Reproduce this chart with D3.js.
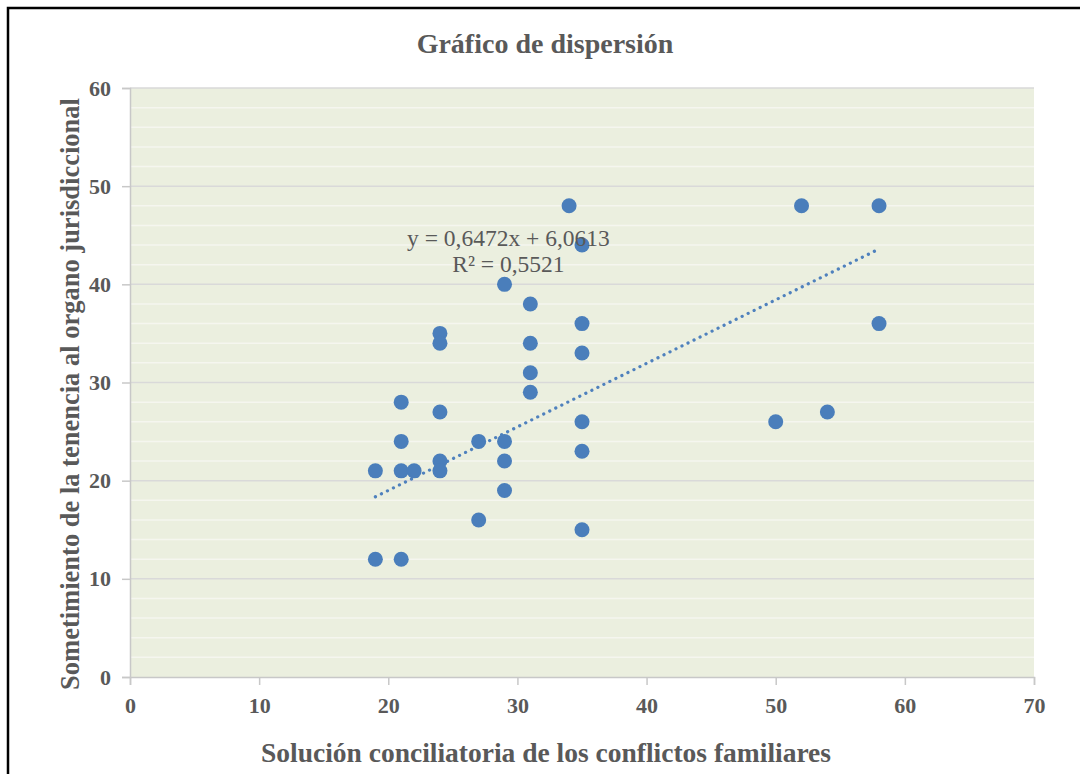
<!DOCTYPE html>
<html>
<head>
<meta charset="utf-8">
<script src="https://cdn.jsdelivr.net/npm/d3@7"></script>
<style>
  body { margin: 0; background: #fff; }
  svg text { font-family: "Liberation Serif", "Times New Roman", serif; fill: #595959; }
</style>
</head>
<body>
<div id="my_dataviz"></div>
<script>
// data
var xValues = [19, 19, 21, 21, 21, 21, 22, 24, 24, 24, 24, 24, 27, 27, 29, 29, 29, 29,
               31, 31, 31, 31, 34, 35, 35, 35, 35, 35, 35, 50, 52, 54, 58, 58];
var yValues = [21, 12, 28, 24, 21, 12, 21, 35, 34, 27, 22, 21, 24, 16, 40, 24, 22, 19,
               38, 34, 31, 29, 48, 44, 36, 33, 26, 23, 15, 26, 48, 27, 48, 36];
var xTicks = [0, 10, 20, 30, 40, 50, 60, 70];
var yTicks = [0, 10, 20, 30, 40, 50, 60];
var trendSlope = 0.6472, trendIntercept = 6.0613;
var trendRange = [19, 58];

var data = xValues.map(function(v, i) { return {x: v, y: yValues[i]}; });

var W = 1080, H = 774;
var margin = {top: 88, right: 46, bottom: 97, left: 130},
    width = W - margin.left - margin.right,
    height = H - margin.top - margin.bottom;

var root = d3.select("#my_dataviz")
    .append("svg")
    .attr("width", W)
    .attr("height", H);

// outer frame (cut off at right and bottom)
root.append("path")
    .attr("d", "M8," + H + "V8H" + W)
    .attr("fill", "none")
    .attr("stroke", "#000")
    .attr("stroke-width", 2.5);

var svg = root.append("g")
    .attr("transform", "translate(" + margin.left + "," + margin.top + ")");

var x = d3.scaleLinear().domain([0, 70]).range([0, width]);
var y = d3.scaleLinear().domain([0, 60]).range([height, 0]);

// plot background
svg.append("rect")
    .attr("width", width)
    .attr("height", height)
    .attr("fill", "#ebefdf");

// minor gridlines
svg.append("g")
    .selectAll("line")
    .data(d3.range(2, 60, 2).filter(function(d) { return d % 10 != 0; }))
    .enter()
    .append("line")
    .attr("x1", 0).attr("x2", width)
    .attr("y1", function(d) { return y(d); })
    .attr("y2", function(d) { return y(d); })
    .attr("stroke", "#f5f6ef")
    .attr("stroke-width", 1.5);

// major gridlines
svg.append("g")
    .selectAll("line")
    .data(yTicks.slice(1))
    .enter()
    .append("line")
    .attr("x1", 0).attr("x2", width)
    .attr("y1", function(d) { return y(d); })
    .attr("y2", function(d) { return y(d); })
    .attr("stroke", "#d9d9d9")
    .attr("stroke-width", 1.5);

// Y axis
var yAxis = svg.append("g")
    .call(d3.axisLeft(y).tickValues(yTicks).tickSize(8).tickPadding(11));
yAxis.select(".domain").attr("stroke", "#c8c8c8").attr("stroke-width", 1.5);
yAxis.selectAll(".tick line").attr("stroke", "#c8c8c8").attr("stroke-width", 1.5);
yAxis.selectAll("text")
    .style("font-size", "22px")
    .attr("font-weight", "bold")
    .attr("fill", "#595959");

// X axis
var xAxis = svg.append("g")
    .attr("transform", "translate(0," + height + ")")
    .call(d3.axisBottom(x).tickValues(xTicks).tickSize(8).tickPadding(12));
xAxis.select(".domain").attr("stroke", "#c8c8c8").attr("stroke-width", 1.5);
xAxis.selectAll(".tick line").attr("stroke", "#c8c8c8").attr("stroke-width", 1.5);
xAxis.selectAll("text")
    .style("font-size", "22px")
    .attr("font-weight", "bold")
    .attr("fill", "#595959");

// trendline (dotted)
svg.append("path")
    .datum(trendRange)
    .attr("fill", "none")
    .attr("stroke", "#4f81bd")
    .attr("stroke-width", 3.2)
    .attr("stroke-linecap", "round")
    .attr("stroke-dasharray", "0.1 6.6")
    .attr("d", d3.line()
        .x(function(d) { return x(d); })
        .y(function(d) { return y(trendSlope * d + trendIntercept); })
    );

// dots
svg.append("g")
    .selectAll("circle")
    .data(data)
    .enter()
    .append("circle")
    .attr("cx", function(d) { return x(d.x); })
    .attr("cy", function(d) { return y(d.y); })
    .attr("r", 7.5)
    .style("fill", "#4a7ebb");

// equation label
svg.append("text")
    .attr("x", x(29.3))
    .attr("y", y(43.9))
    .attr("text-anchor", "middle")
    .style("font-size", "23.5px")
    .text("y = 0,6472x + 6,0613");
svg.append("text")
    .attr("x", x(29.3))
    .attr("y", y(41.25))
    .attr("text-anchor", "middle")
    .style("font-size", "23.5px")
    .text("R² = 0,5521");

// Title
root.append("text")
    .attr("x", 545)
    .attr("y", 53)
    .attr("text-anchor", "middle")
    .style("font-size", "28px")
    .attr("font-weight", "bold")
    .text("Gráfico de dispersión");

// x axis title
root.append("text")
    .attr("x", 546)
    .attr("y", 762)
    .attr("text-anchor", "middle")
    .style("font-size", "27.5px")
    .attr("font-weight", "bold")
    .text("Solución conciliatoria de los conflictos familiares");

// y axis title
root.append("text")
    .attr("transform", "translate(79,394) rotate(-90)")
    .attr("text-anchor", "middle")
    .style("font-size", "26.5px")
    .attr("font-weight", "bold")
    .text("Sometimiento de la tenencia al organo jurisdiccional");
</script>
</body>
</html>
